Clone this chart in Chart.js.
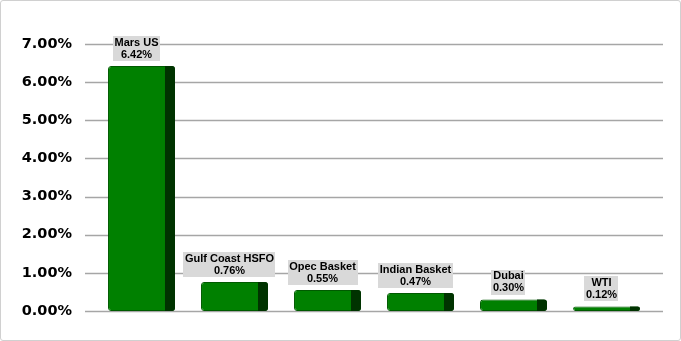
<!DOCTYPE html>
<html>
<head>
<meta charset="utf-8">
<script src="https://cdn.jsdelivr.net/npm/chart.js@4/dist/chart.umd.min.js"></script>
<style>
html,body{margin:0;padding:0;background:#fff;}
#wrap{position:absolute;left:0;top:0;width:679px;height:339px;border:1px solid #d0d0d0;border-radius:3px;}
canvas{position:absolute;left:-1px;top:-1px;}
</style>
</head>
<body>
<div id="wrap"><canvas id="c" width="681" height="341"></canvas></div>
<script>
const categories = ["Mars US", "Gulf Coast HSFO", "Opec Basket", "Indian Basket", "Dubai", "WTI"];
const values = [6.42, 0.76, 0.55, 0.47, 0.30, 0.12];
const tickValues = [0, 1, 2, 3, 4, 5, 6, 7];

const gridPlugin = {
  id: 'grid',
  beforeDatasetsDraw(chart) {
    const ctx = chart.ctx, y = chart.scales.y, a = chart.chartArea;
    ctx.save();
    ctx.strokeStyle = '#a6a6a6';
    ctx.lineWidth = 1.3;
    tickValues.forEach(v => {
      const py = Math.round(y.getPixelForValue(v)) + 0.5;
      ctx.beginPath();
      ctx.moveTo(a.left - 10, py);
      ctx.lineTo(a.right + 10, py);
      ctx.stroke();
    });
    ctx.restore();
  }
};

const sidePlugin = {
  id: 'side',
  afterDatasetsDraw(chart) {
    const ctx = chart.ctx;
    const meta = chart.getDatasetMeta(0);
    ctx.save();
    meta.data.forEach((bar, i) => {
      const p = bar.getProps(['x', 'y', 'base', 'width'], true);
      const right = p.x + p.width / 2;
      const sw = 10;
      const h = p.base - p.y;
      const r = Math.min(3, h / 2);
      ctx.fillStyle = '#003300';
      ctx.beginPath();
      ctx.moveTo(right - sw, p.y);
      ctx.lineTo(right - r, p.y);
      ctx.quadraticCurveTo(right, p.y, right, p.y + r);
      ctx.lineTo(right, p.base - r);
      ctx.quadraticCurveTo(right, p.base, right - r, p.base);
      ctx.lineTo(right - sw, p.base);
      ctx.closePath();
      ctx.fill();
      const cx = p.x - sw / 2;
      ctx.font = 'bold 11px "Liberation Sans", Arial, sans-serif';
      const l1 = categories[i], l2 = values[i].toFixed(2) + '%';
      const w = Math.max(ctx.measureText(l1).width, ctx.measureText(l2).width) + 3;
      const bh = 25;
      const bottom = p.y - 5;
      ctx.fillStyle = '#d9d9d9';
      ctx.fillRect(Math.round(cx - w / 2), Math.round(bottom - bh), Math.round(w), bh);
      ctx.fillStyle = '#000';
      ctx.textAlign = 'center';
      ctx.textBaseline = 'middle';
      ctx.fillText(l1, cx, bottom - bh + 6.5);
      ctx.fillText(l2, cx, bottom - bh + 18.5);
    });
    ctx.restore();
  }
};

new Chart(document.getElementById('c'), {
  type: 'bar',
  data: {
    labels: categories,
    datasets: [{
      data: values,
      backgroundColor: '#008000',
      borderColor: '#005a00',
      borderWidth: 1,
      borderRadius: 3,
      borderSkipped: false,
      categoryPercentage: 1,
      barPercentage: 0.72
    }]
  },
  options: {
    responsive: false,
    animation: false,
    devicePixelRatio: 1,
    layout: { padding: { left: 0, right: 28, top: 44, bottom: 30 } },
    plugins: { legend: { display: false }, tooltip: { enabled: false } },
    scales: {
      x: { display: false },
      y: {
        min: 0, max: 7,
        border: { display: false },
        grid: { display: false, drawTicks: false },
        afterFit: s => { s.width = 95; s.paddingTop = 0; s.paddingBottom = 0; },
        ticks: {
          stepSize: 1,
          padding: 23,
          color: '#000',
          font: { family: '"DejaVu Sans", Verdana, sans-serif', size: 14.5, weight: 'bold' },
          callback: v => v.toFixed(2) + '%'
        }
      }
    }
  },
  plugins: [gridPlugin, sidePlugin]
});
</script>
</body>
</html>
